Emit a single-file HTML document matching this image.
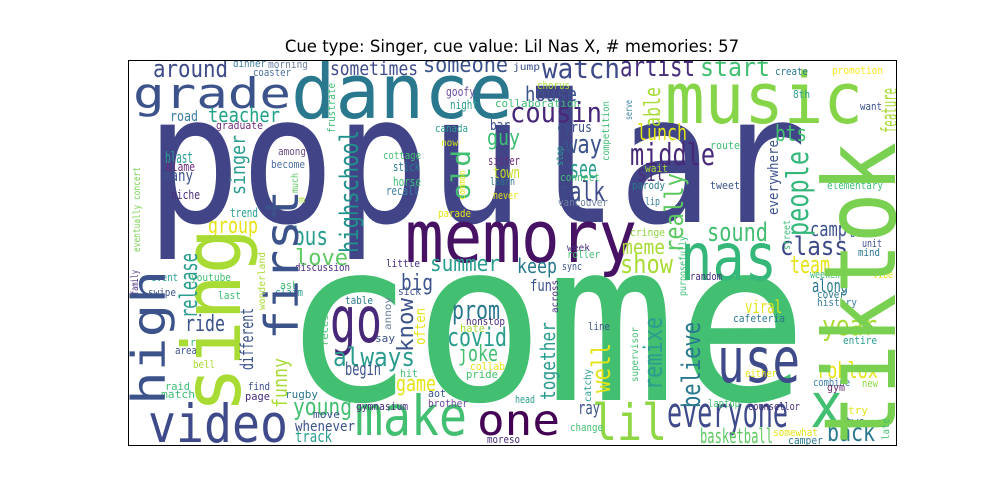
<!DOCTYPE html>
<html><head><meta charset="utf-8"><style>
html,body{margin:0;padding:0;background:#fff;}
svg{display:block;}
text.w{font-family:"DejaVu Sans Mono","Liberation Mono",monospace;}
</style></head><body>
<svg id="chart" width="1000" height="500" viewBox="0 0 1000 500" xmlns="http://www.w3.org/2000/svg">
<rect x="0" y="0" width="1000" height="500" fill="#fff"/>
<text x="512" y="52" text-anchor="middle" font-family="DejaVu Sans, Liberation Sans, sans-serif" font-size="16.5" fill="#000">Cue type: Singer, cue value: Lil Nas X, # memories: 57</text>
<g id="cloud" clip-path="url(#clipbox)"></g>
<defs><clipPath id="clipbox"><rect x="128.5" y="60.5" width="768" height="385"/></clipPath></defs>
<rect x="128.5" y="60.5" width="768" height="385" fill="none" stroke="#000" stroke-width="1"/>
</svg>
<script>
// horizontal words: text, left x, baseline y, font size, width, color
const hWords = ["popular","come","dance","grade","music","memory","nas","video","make","one","lil","go","use","everyone","x","back",
"around","dinner","morning","coaster","sometimes","someone","teacher","road","graduate","goofy","night","canada","now","cottage","stick","horse","recall","among","become","rm","blast","blame","many","niche","trend","parade","group","bus","sister","town","learn","never","guy","bar","cyrus","collaboration","chorus","jump","watch","artist","house","cousin","way","see","talk","vancouver","connect","start","lunch","middle","sit","parody","lip","wait","cringe","week","meme","sound","bts","route","tweet","camp","class","create","promotion","8th","want","elementary","blow","unit","mind",
"love","summer","discussion","little","event","youtube","swipe","last","ask","claim","big","sick","table","say","prom","covid","nonstop","hate","joke","collab","pride","hit","always","begin","ride","reason","area","bell","game","raid","match","find","page","rugby","aot","brother","young","gymnasium","move","whenever","track","moreso",
"show","team","keep","sync","roller","fun","random","weekend","vibe","along","cover","history","viral","cafeteria","year","entire","line","roblox","either","combine","gym","new","head","laptop","counsellor","ray","change","basketball","somewhat","camper","try","two"];
const hX = [146,282,291,133,665,405,680,148,355,477,592,330,717,667,810,827,
153,233,268,253,330,423,208,170,216,446,450,435,441,383,393,393,386,278,271,293,165,166,163,171,230,438,208,293,488,493,490,493,487,490,557,495,537,513,542,620,525,510,565,570,558,558,560,700,637,630,637,632,645,645,630,567,622,707,775,710,710,810,780,775,832,793,860,827,850,862,858,
295,430,295,386,151,191,148,218,280,275,401,398,345,375,452,447,466,460,458,470,466,400,333,345,185,190,175,193,396,165,161,248,245,285,428,428,293,356,313,295,295,487,
620,790,517,562,567,530,690,810,873,812,817,817,745,733,822,843,588,817,745,813,827,862,515,708,748,578,570,700,773,788,848,845];
const hY = [222,400,118,108,123,262,280,442,435,435,440,342,382,427,427,441,
77,67,68,76,75,72,122,121,129,96,109,132,146,159,171,186,195,155,168,203,163,171,181,199,217,217,233,245,165,178,185,199,145,130,132,107,89,70,78,76,101,122,153,178,201,206,181,76,140,165,181,189,205,172,236,251,254,241,141,149,189,236,255,75,74,98,110,189,237,247,256,
265,271,271,267,281,281,296,299,289,296,290,295,304,342,319,346,325,332,361,370,378,377,366,375,331,346,354,368,391,390,398,390,400,398,397,407,415,410,418,431,442,443,
273,273,273,270,258,291,280,278,278,292,298,306,313,322,335,344,330,378,377,386,391,387,403,407,410,414,431,443,436,444,414,425];
const hSize = [178,223,76,42,70,72,66,53,55,43,50,64,62,42,62,25,
24,11,11,11,19,22,20,14,11,12,12,11,10,11,12,12,12,11,11,10,16,12,16,12,12,11,22,26,12,16,11,11,22,14,14,11,11,10,28,28,20,28,26,26,28,11,11,26,22,30,22,11,11,11,11,10,20,26,22,11,11,20,26,11,11,11,11,11,11,11,11,
22,22,11,11,11,11,11,11,11,11,22,11,11,11,26,26,11,11,22,11,11,11,26,18,22,11,11,11,22,11,11,11,11,11,11,11,24,11,11,14,16,11,
26,24,20,11,11,16,11,11,11,18,11,11,18,11,28,11,11,22,11,11,11,11,11,11,11,18,11,20,11,11,11,11];
const hLen = [661,526,222,158,198,232,97,140,112,83,75,52,83,121,33,48,
75,33,40,38,88,85,72,28,47,29,28,33,17,38,27,28,33,28,34,12,28,29,30,29,28,33,50,35,32,27,25,25,33,20,35,85,33,27,78,75,52,92,37,27,47,50,40,70,50,85,28,33,15,23,35,23,43,61,32,30,30,37,68,33,51,17,22,56,23,20,22,
53,70,55,34,27,40,28,23,18,28,32,23,28,20,48,60,39,25,40,35,32,18,82,36,40,35,22,22,40,25,34,22,25,33,18,40,59,52,27,60,37,33,
53,40,40,20,33,22,32,35,20,36,28,40,37,52,55,34,22,61,32,37,18,16,20,32,52,22,33,73,45,35,20,20];
const hColor = ["#414487","#43bf71","#2a788e","#3b528b","#86d549","#471164","#35b779","#3e4a89","#43bf71","#440154","#8fd744","#482878","#3e4a89","#3e4a89","#43bf71","#2a788e",
"#3e4a89","#3b7ea1","#6b7fa0","#4a6fa0","#3e4a89","#3b528b","#20a386","#3b7ea1","#6c2b7a","#6b4c9a","#2e9e8f","#2a9d8f","#d0e11c","#43bf71","#2a788e","#3dbc74","#3b7ea1","#6c4c8a","#4a6fa0","#a8db34","#2a9d8f","#6c2b7a","#3b528b","#472d7b","#2a9d8f","#e4e419","#e5e419","#2a9d8f","#6c2b7a","#c2df23","#2a788e","#e5e419","#3dbc74","#3b528b","#3b528b","#3dbc74","#a8db34","#3b528b","#3e4a89","#472d7b","#3b528b","#482878","#3b528b","#2a9d8f","#3e4a89","#6b7fa0","#43bf71","#43bf71","#e2e418","#482878","#472d7b","#2a788e","#3b7ea1","#a8db34","#8fd744","#472d7b","#a8db34","#43bf71","#43bf71","#3dbc74","#3b528b","#3b528b","#3e4a89","#2a788e","#fde725","#2a9d8f","#3b528b","#3dbc74","#3b528b","#3b528b","#2a788e",
"#5ec962","#2a9d8f","#472d7b","#472d7b","#2a9d8f","#43bf71","#3b528b","#3dbc74","#43bf71","#2a9d8f","#3b528b","#3b528b","#2a788e","#3b528b","#2a788e","#2a9d8f","#472d7b","#a8db34","#43bf71","#e5e419","#43bf71","#43bf71","#2a9d8f","#3b528b","#3b528b","#3dbc74","#3b528b","#a8db34","#e5e419","#3dbc74","#3dbc74","#3b528b","#472d7b","#2a788e","#3b528b","#6b4c9a","#43bf71","#472d7b","#3b528b","#3b528b","#2a9d8f","#472d7b",
"#a8db34","#e5e419","#2a788e","#3b528b","#43bf71","#3b528b","#472d7b","#3dbc74","#e5e419","#2a788e","#2a788e","#3b7ea1","#e5e419","#2a788e","#a8db34","#2a9d8f","#3b528b","#e5e419","#e5e419","#3b7ea1","#6c2b7a","#8fd744","#2a9d8f","#43bf71","#472d7b","#3b528b","#43bf71","#5ec962","#e5e419","#2a788e","#e5e419","#3b528b"];

// vertical words (reading bottom to top): text, baseline x, bottom y, font size, length, color
const vWords = ["tiktok","sing","first","high","highschool","old","release","different","funny","know","often","singer","frustrate","able","really","people","everywhere","feature","together","well","remixe","believe","competition","serve","stop","much","eventually concert","wonderland","family","annoy","recess","purposefully","across","supervisor","catchy","street","late","common"];
const vX = [895,240,298,165,358,470,197,253,287,413,425,245,335,660,683,808,778,897,555,610,662,700,609,632,563,298,140,265,138,391,328,686,558,638,591,790,889,465];
const vY = [445,413,340,405,253,200,318,370,408,352,345,195,133,127,253,236,215,133,400,393,390,408,161,120,166,193,252,310,295,330,346,296,313,382,402,250,440,200];
const vSize = [100,80,46,46,26,26,24,18,20,22,14,20,11,22,26,30,14,22,20,26,26,26,10,10,10,10,10,10,10,10,10,10,10,10,10,10,10,9];
const vLen = [303,185,150,135,123,50,65,62,50,54,37,60,50,40,80,85,75,45,78,50,73,86,60,20,20,20,85,58,25,33,38,60,33,55,33,30,22,30];
const vColor = ["#7ad151","#a8db34","#3b528b","#3b528b","#21918c","#43bf71","#2a9d8f","#3b528b","#a8db34","#3b528b","#e5e419","#2a9d8f","#3dbc74","#a8db34","#5ec962","#35b779","#3b528b","#a8db34","#2a9d8f","#e5e419","#2a9d8f","#2a788e","#3dbc74","#3b7ea1","#2a9d8f","#5ec962","#7ad151","#a8db34","#472d7b","#6b7fa0","#43bf71","#3dbc74","#472d7b","#43bf71","#2a9d8f","#3dbc74","#43bf71","#e5e419"];

const NS = "http://www.w3.org/2000/svg";
const g = document.getElementById('cloud');
function mk(word, x, y, size, len, color, vertical) {
  const t = document.createElementNS(NS, 'text');
  t.setAttribute('class', 'w');
  t.setAttribute('x', x);
  t.setAttribute('y', y);
  t.setAttribute('font-size', size);
  t.setAttribute('fill', color);
  t.setAttribute('textLength', len);
  t.setAttribute('lengthAdjust', 'spacingAndGlyphs');
  if (vertical) t.setAttribute('transform', 'rotate(-90 ' + x + ' ' + y + ')');
  t.textContent = word;
  
  
  g.appendChild(t);
}
for (let i = 0; i < hWords.length; i++) mk(hWords[i], hX[i], hY[i], hSize[i], hLen[i], hColor[i], false);
for (let i = 0; i < vWords.length; i++) mk(vWords[i], vX[i], vY[i], vSize[i], vLen[i], vColor[i], true);
</script>
</body></html>
